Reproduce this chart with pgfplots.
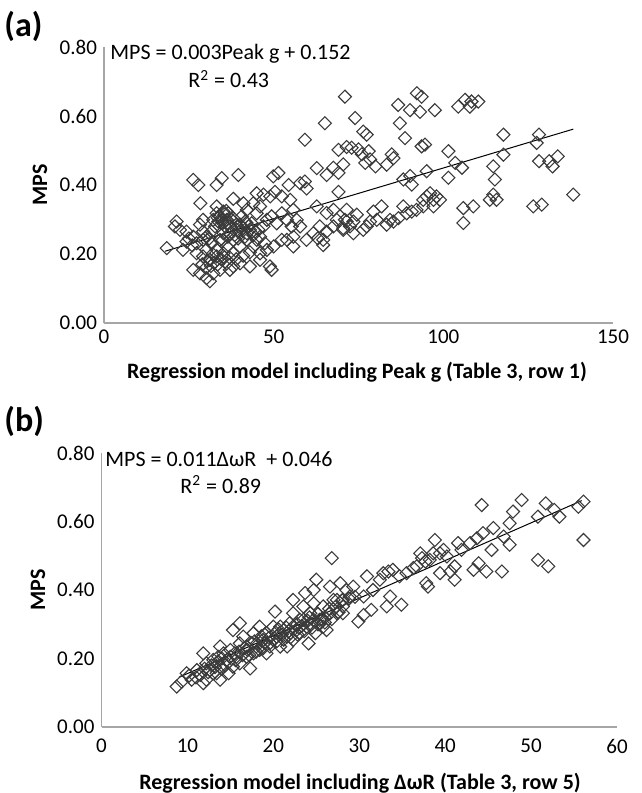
\documentclass[border=0pt]{standalone}
\usepackage{fontspec}
\setmainfont{Carlito}
\usepackage{pgfplots}
\pgfplotsset{compat=1.18}
\definecolor{mk}{HTML}{3A3A3A}
\definecolor{ax}{HTML}{A6A6A6}
\begin{document}
\begin{tikzpicture}
\useasboundingbox (0pt,0pt) rectangle (321pt,396.5pt);
\pgfplotsset{myax/.style={
  scale only axis,
  axis lines=left,
  axis line style={ax, line width=0.6pt, -},
  ymin=0, ymax=0.8, ytick={0,0.2,0.4,0.6,0.8},
  yticklabel style={/pgf/number format/.cd, fixed, fixed zerofill, precision=2},
  /pgf/number format/assume math mode=true,
  major tick length=0pt,
  tick style={draw=none},
  ticklabel style={font=\fontsize{10.5}{12}\selectfont},
  clip=false,
},
pts/.style={only marks, mark=square, mark size=2.3pt,
  mark options={rotate=45, draw=mk, line width=0.55pt, fill=none}}}
% ---------------- panel (a)
\begin{axis}[myax, at={(52pt,235pt)}, anchor=south west, width=254.5pt, height=138pt,
  xmin=0, xmax=150, xtick={0,50,100,150}]
\addplot[pts] coordinates {
(18.5,0.217)(71.0,0.656)(65.1,0.579)(59.2,0.531)(69.1,0.502)(71.5,0.510)(62.7,0.449)
(65.6,0.429)(67.6,0.450)(69.1,0.435)(70.5,0.460)(26.3,0.415)(27.8,0.400)(33.2,0.400)
(34.7,0.420)(39.6,0.429)(49.9,0.425)(51.4,0.435)(50.4,0.380)(54.4,0.400)(57.8,0.405)
(59.2,0.410)(59.7,0.390)(28.4,0.347)(33.2,0.338)(38.1,0.360)(41.1,0.347)(45.0,0.376)
(44.0,0.347)(47.0,0.372)(49.0,0.367)(52.4,0.367)(54.9,0.357)(55.8,0.328)(62.7,0.338)
(69.1,0.380)(65.6,0.319)(67.6,0.328)(71.5,0.328)(33.2,0.318)(34.2,0.309)(35.2,0.323)
(36.2,0.299)(33.7,0.294)(36.6,0.318)(38.1,0.304)(35.7,0.280)(32.7,0.280)(21.4,0.294)
(20.9,0.280)(22.4,0.270)(24.3,0.265)(26.3,0.250)(29.2,0.265)(30.2,0.250)(29.2,0.241)
(27.3,0.231)(24.3,0.236)(23.3,0.212)(31.7,0.231)(33.2,0.212)(34.2,0.241)(37.1,0.260)
(39.1,0.270)(40.6,0.280)(42.1,0.260)(43.5,0.289)(44.5,0.265)(46.0,0.250)(47.0,0.280)
(48.0,0.299)(49.4,0.309)(50.9,0.289)(52.4,0.318)(53.9,0.299)(55.3,0.280)(56.8,0.299)
(55.8,0.250)(57.8,0.280)(59.7,0.241)(61.7,0.260)(63.6,0.280)(64.6,0.241)(65.6,0.265)
(67.6,0.280)(68.6,0.299)(70.5,0.270)(71.5,0.294)(64.6,0.226)(63.0,0.245)(50.0,0.222)
(48.0,0.212)(46.0,0.202)(44.0,0.222)(42.1,0.241)(40.1,0.222)(38.1,0.202)(36.2,0.222)
(38.1,0.241)(35.2,0.202)(33.2,0.193)(31.2,0.183)(36.2,0.173)(38.1,0.164)(40.1,0.173)
(43.0,0.164)(46.0,0.183)(48.9,0.164)(49.4,0.154)(26.3,0.154)(28.3,0.144)(30.2,0.130)
(31.2,0.121)(32.2,0.144)(34.2,0.154)(37.1,0.154)(29.2,0.193)(27.3,0.202)(30.2,0.212)
(45.0,0.318)(46.0,0.338)(42.1,0.328)(40.6,0.309)(40.1,0.285)(41.6,0.294)(42.6,0.280)
(45.0,0.241)(47.4,0.231)(53.9,0.241)(52.4,0.241)(55.8,0.222)(31.7,0.265)(32.2,0.299)
(29.2,0.299)(28.3,0.285)(35.2,0.260)(37.1,0.280)
(34.0,0.310)(34.8,0.300)(35.5,0.315)(36.5,0.290)(37.5,0.300)(35.0,0.290)(33.5,0.305)
(36.0,0.325)(39.0,0.285)(40.0,0.265)(41.0,0.275)(42.0,0.290)(43.0,0.270)(44.0,0.255)
(41.5,0.250)(39.5,0.245)(38.5,0.255)(45.5,0.270)(29.0,0.170)(30.0,0.160)(31.5,0.165)
(32.5,0.175)(33.5,0.170)(34.5,0.185)(35.5,0.190)(30.5,0.180)(32.0,0.200)(37.0,0.190)
(39.0,0.185)(41.0,0.195)(43.0,0.205)(35.0,0.240)(36.5,0.250)(31.0,0.245)(26.0,0.225)
(25.0,0.245)
(74.0,0.594)(76.4,0.555)(77.4,0.546)(73.0,0.508)(75.0,0.503)(76.0,0.489)(78.0,0.498)
(78.4,0.474)(77.0,0.464)(80.0,0.454)(83.3,0.459)(84.8,0.489)(85.3,0.478)(86.7,0.632)
(87.2,0.579)(88.7,0.536)(90.2,0.617)(92.2,0.666)(93.6,0.656)(93.1,0.612)(97.5,0.617)
(93.6,0.512)(94.6,0.517)(95.1,0.440)(90.2,0.426)(88.2,0.416)(90.7,0.401)(101.5,0.498)
(103.5,0.464)(105.5,0.450)(101.5,0.421)(104.4,0.627)(106.4,0.647)(108.3,0.642)(110.3,0.642)
(107.8,0.627)(117.7,0.546)(117.7,0.488)(114.7,0.454)(115.2,0.416)(114.7,0.372)(115.7,0.357)
(113.7,0.357)(128.2,0.546)(127.5,0.522)(128.2,0.469)(131.2,0.469)(133.7,0.483)(132.2,0.454)
(138.3,0.372)(126.5,0.338)(129.0,0.343)(105.9,0.333)(108.8,0.338)(105.9,0.290)(99.0,0.357)
(98.0,0.367)(97.1,0.357)(96.1,0.376)(95.1,0.367)(94.1,0.357)(97.1,0.338)(94.1,0.338)
(92.1,0.328)(90.7,0.323)(89.2,0.318)(88.2,0.338)(86.8,0.304)(85.3,0.294)(84.3,0.299)
(83.3,0.285)(81.8,0.338)(79.4,0.323)(80.4,0.299)(78.4,0.294)(77.4,0.280)(76.4,0.270)
(74.5,0.314)(73.5,0.294)(72.5,0.280)(71.0,0.299)(73.5,0.260)(70.5,0.275)
};
\addplot[black, line width=0.5pt] coordinates {(18,0.208)(138.3,0.562)};
\end{axis}
% ---------------- panel (b)
\begin{axis}[myax, at={(50.75pt,33pt)}, anchor=south west, width=257.75pt, height=137pt,
  xmin=0, xmax=60, xtick={0,10,20,30,40,50,60}, xticklabel style={yshift=-2.5pt}]
\addplot[pts] coordinates {
(8.75,0.118)(9.33,0.132)(9.9,0.157)(10.5,0.138)(11.1,0.166)(11.85,0.215)(11.5,0.152)
(12.2,0.138)(12.6,0.166)(12.2,0.186)(13.0,0.196)(13.4,0.157)(13.8,0.176)(14.2,0.215)
(14.6,0.196)(15.0,0.225)(15.3,0.176)(14.8,0.157)(15.7,0.205)(16.1,0.244)(15.3,0.283)
(16.1,0.303)(16.5,0.264)(16.9,0.235)(17.3,0.171)(17.7,0.274)(18.1,0.244)(18.4,0.225)
(18.8,0.254)(19.2,0.274)(19.6,0.235)(20.0,0.254)(20.2,0.337)(20.4,0.264)(20.8,0.235)
(21.2,0.283)(21.6,0.264)(21.9,0.303)(22.3,0.254)(22.3,0.332)(22.7,0.283)(23.1,0.313)
(23.5,0.352)(23.7,0.391)(23.9,0.293)(24.1,0.244)(24.3,0.332)(24.7,0.361)(24.9,0.274)
(25.0,0.430)(25.4,0.313)(25.8,0.352)(26.2,0.283)(26.6,0.410)(26.8,0.493)(27.0,0.371)
(27.4,0.332)(27.8,0.420)(28.1,0.352)(28.5,0.400)(16.9,0.205)(17.7,0.215)(18.4,0.293)
(19.2,0.215)(20.0,0.293)(20.8,0.293)(21.6,0.235)(22.3,0.293)(23.1,0.274)(23.5,0.313)
(24.7,0.313)(25.8,0.293)(26.6,0.332)(27.4,0.371)(24.7,0.400)(22.3,0.371)(13.8,0.235)
(13.0,0.157)(16.1,0.186)(13.8,0.138)(11.85,0.128)
(10.2,0.150)(11.0,0.145)(12.0,0.170)(12.8,0.180)(13.5,0.190)(14.0,0.200)(14.4,0.180)
(15.5,0.215)(16.0,0.220)(17.0,0.225)(17.5,0.245)(18.0,0.235)(18.6,0.265)(19.0,0.245)
(19.5,0.260)(20.3,0.275)(21.0,0.270)(21.5,0.290)(22.0,0.275)(22.8,0.300)(23.3,0.295)
(24.0,0.310)(24.5,0.290)(25.2,0.330)(26.0,0.320)(26.5,0.345)(27.2,0.350)(28.0,0.370)
(28.8,0.375)(29.5,0.380)
(12.4,0.160)(13.2,0.175)(14.0,0.170)(14.8,0.190)(15.6,0.195)(16.4,0.210)(17.2,0.210)
(18.0,0.220)(18.8,0.230)(19.6,0.245)(20.4,0.250)(21.2,0.255)(22.0,0.262)(22.8,0.270)
(23.6,0.280)(24.4,0.300)(25.2,0.300)(26.0,0.305)(26.8,0.315)(27.6,0.335)(19.0,0.270)
(20.6,0.285)(21.8,0.280)(23.0,0.290)(24.2,0.320)(25.6,0.315)(17.8,0.250)(16.6,0.230)
(15.0,0.205)(13.6,0.205)
(44.25,0.648)(48.9,0.663)(47.9,0.629)(47.5,0.595)(51.7,0.653)(50.8,0.614)(52.7,0.634)
(53.3,0.614)(55.5,0.643)(56.1,0.658)(56.1,0.546)(50.8,0.488)(52.0,0.469)(45.6,0.581)
(46.8,0.556)(47.5,0.532)(43.7,0.551)(45.4,0.517)(43.9,0.478)(43.3,0.459)(44.8,0.454)
(46.6,0.454)(41.5,0.537)(41.1,0.469)(41.1,0.430)(40.6,0.454)(40.2,0.498)(39.4,0.449)
(38.8,0.546)(39.8,0.517)(37.8,0.420)(38.0,0.410)(37.1,0.507)(37.3,0.493)(36.7,0.469)
(37.7,0.483)(38.2,0.488)(36.3,0.464)(34.7,0.440)(33.9,0.459)(33.4,0.454)(32.8,0.449)
(33.6,0.381)(33.2,0.352)(34.9,0.357)(30.9,0.440)(31.4,0.342)(30.5,0.327)(29.9,0.308)
(28.9,0.381)(28.1,0.371)(28.1,0.332)(29.3,0.410)(30.5,0.381)(31.6,0.400)(32.4,0.430)
(35.5,0.449)(38.6,0.507)(39.4,0.507)(41.9,0.517)(42.9,0.537)(44.4,0.566)
};
\addplot[black, line width=0.5pt] coordinates {(9,0.145)(55.9,0.661)};
\end{axis}
% ---------------- texts
\node[anchor=base west, inner sep=0pt, font=\fontsize{17}{20}\selectfont\bfseries] at (2pt,378pt) {(a)};
\node[anchor=base west, inner sep=0pt, font=\fontsize{17}{20}\selectfont\bfseries] at (2pt,180.5pt) {(b)};
\node[anchor=base west, inner sep=0pt, font=\fontsize{11}{13}\selectfont] at (55pt,366.5pt) {MPS = 0.003Peak g + 0.152};
\node[anchor=base west, inner sep=0pt, font=\fontsize{11}{13}\selectfont] at (94pt,352.5pt) {R\textsuperscript{2} = 0.43};
\node[anchor=base west, inner sep=0pt, font=\fontsize{11}{13}\selectfont] at (52.5pt,163.2pt) {MPS = 0.011ΔωR\ \ + 0.046};
\node[anchor=base west, inner sep=0pt, font=\fontsize{11}{13}\selectfont] at (90pt,149.8pt) {R\textsuperscript{2} = 0.89};
\node[rotate=90, inner sep=0pt, font=\fontsize{11}{13}\selectfont\bfseries] at (20pt,304pt) {MPS};
\node[rotate=90, inner sep=0pt, font=\fontsize{11}{13}\selectfont\bfseries] at (19pt,101.5pt) {MPS};
\node[inner sep=0pt, font=\fontsize{11}{13}\selectfont\bfseries] at (178.5pt,210.5pt) {Regression model including Peak g (Table 3, row 1)};
\node[inner sep=0pt, font=\fontsize{11}{13}\selectfont\bfseries] at (180pt,5pt) {Regression model including ΔωR (Table 3, row 5)};
\end{tikzpicture}
\end{document}
